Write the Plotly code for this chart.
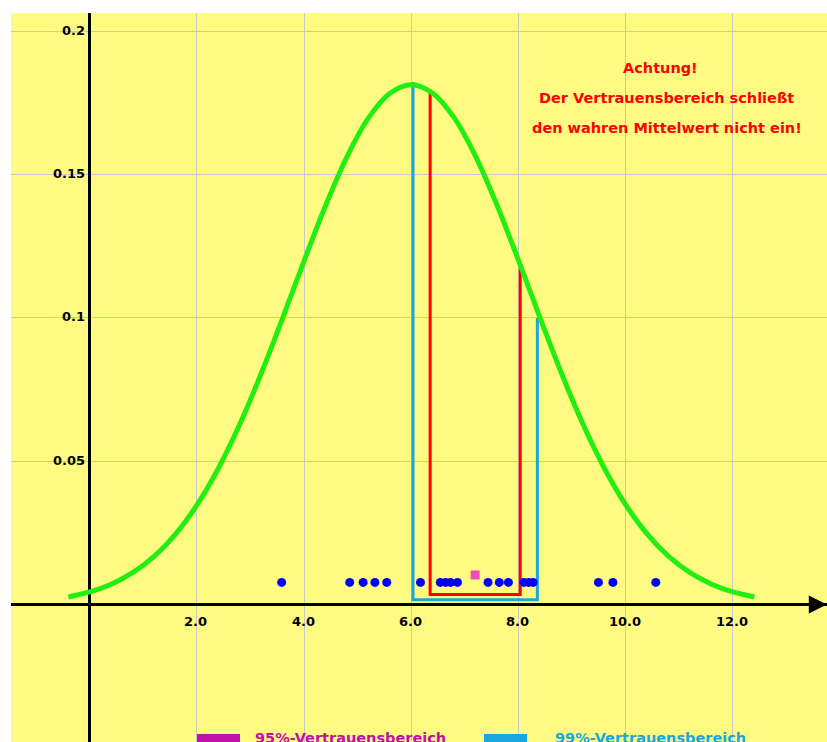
import plotly.graph_objects as go

# ---- data ----
curve_x = [-0.4, 0.0, 0.4, 0.8, 1.2, 1.6, 2.0, 2.4, 2.8, 3.2, 3.6, 4.0, 4.4, 4.8, 5.2, 5.6, 6.0,
           6.4, 6.8, 7.2, 7.6, 8.0, 8.4, 8.8, 9.2, 9.6, 10.0, 10.4, 10.8, 11.2, 11.6, 12.0, 12.4]
curve_y = [0.00263, 0.00440, 0.00710, 0.01110, 0.01678, 0.02454, 0.03472, 0.04753, 0.06295,
           0.08066, 0.10000, 0.11994, 0.13917, 0.15624, 0.16970, 0.17833, 0.18130,
           0.17833, 0.16970, 0.15624, 0.13917, 0.11994, 0.10000, 0.08066, 0.06295, 0.04753,
           0.03472, 0.02454, 0.01678, 0.01110, 0.00710, 0.00440, 0.00263]

sample_x = [3.58, 4.85, 5.10, 5.32, 5.54, 6.17, 6.54, 6.64, 6.73, 6.86,
            7.43, 7.64, 7.81, 8.10, 8.19, 8.27, 9.49, 9.76, 10.56]
sample_level = 0.0077

sample_mean = [7.19]
sample_mean_level = [0.0103]

ci95_x = [6.35, 8.03]
ci95_top = [0.1787, 0.1174]
ci95_base = 0.0035

ci99_x = [6.03, 8.35]
ci99_top = [0.1822, 0.0999]
ci99_base = 0.0017

x_ticks = [2, 4, 6, 8, 10, 12]
x_tick_labels = ["2.0", "4.0", "6.0", "8.0", "10.0", "12.0"]
y_ticks = [0.05, 0.1, 0.15, 0.2]
y_tick_labels = ["0.05", "0.1", "0.15", "0.2"]

warning_lines = ["Achtung!", "Der Vertrauensbereich schließt", "den wahren Mittelwert nicht ein!"]
legend_labels = ["95%-Vertrauensbereich", "99%-Vertrauensbereich"]

# ---- styles ----
BG = "#FFFB82"
GREEN = "#22EE11"
RED = "#FF0000"
CYAN = "#18A8DC"
MAGENTA = "#C010A8"
BLUE = "#0000FF"
PINK = "#F04CB4"
FONT = "DejaVu Sans, Liberation Sans, Arial, sans-serif"

fig = go.Figure()

# 99% interval (cyan)
fig.add_trace(go.Scatter(
    x=[ci99_x[0], ci99_x[0], ci99_x[1], ci99_x[1]],
    y=[ci99_top[0], ci99_base, ci99_base, ci99_top[1]],
    mode="lines", line=dict(color=CYAN, width=3), hoverinfo="skip"))
# 95% interval (red)
fig.add_trace(go.Scatter(
    x=[ci95_x[0], ci95_x[0], ci95_x[1], ci95_x[1]],
    y=[ci95_top[0], ci95_base, ci95_base, ci95_top[1]],
    mode="lines", line=dict(color=RED, width=3), hoverinfo="skip"))
# density curve
fig.add_trace(go.Scatter(
    x=curve_x, y=curve_y, mode="lines",
    line=dict(color=GREEN, width=5, shape="spline")))
# sample points
fig.add_trace(go.Scatter(
    x=sample_x, y=[sample_level] * len(sample_x), mode="markers",
    marker=dict(color=BLUE, size=9, symbol="circle")))
# sample mean
fig.add_trace(go.Scatter(
    x=sample_mean, y=sample_mean_level, mode="markers",
    marker=dict(color=PINK, size=9, symbol="square")))

annotations = []
for v, t in zip(x_ticks, x_tick_labels):
    annotations.append(dict(x=v, y=0, xref="x", yref="y", text="<b>%s</b>" % t,
                            showarrow=False, yshift=-17, xshift=-1, xanchor="center",
                            font=dict(family=FONT, size=13, color="black")))
for v, t in zip(y_ticks, y_tick_labels):
    annotations.append(dict(x=0, y=v, xref="x", yref="y", text="<b>%s</b>" % t,
                            showarrow=False, xanchor="right", xshift=-3, yshift=1,
                            font=dict(family=FONT, size=13, color="black")))
# warning text
warning_centers = [660, 666, 667]
for i, t in enumerate(warning_lines):
    annotations.append(dict(x=(warning_centers[i] - 11) / 816, y=(742 - (68 + 30 * i)) / 729,
                            xref="paper", yref="paper", text="<b>%s</b>" % t,
                            showarrow=False, xanchor="center", yanchor="middle",
                            font=dict(family=FONT, size=14.5, color=RED)))
# x-axis arrow head
annotations.append(dict(x=13.75, y=0, xref="x", yref="y", text="", showarrow=True,
                        ax=-14, ay=0, arrowhead=2, arrowsize=1.2, arrowwidth=3,
                        arrowcolor="black"))
# legend texts
annotations.append(dict(x=(253 - 11) / 816, y=(742 - 738) / 729, xref="paper", yref="paper",
                        text="<b>%s</b>" % legend_labels[0], showarrow=False,
                        xanchor="left", yanchor="middle",
                        font=dict(family=FONT, size=14.5, color=MAGENTA)))
annotations.append(dict(x=(553 - 11) / 816, y=(742 - 738) / 729, xref="paper", yref="paper",
                        text="<b>%s</b>" % legend_labels[1], showarrow=False,
                        xanchor="left", yanchor="middle",
                        font=dict(family=FONT, size=14.5, color=CYAN)))

shapes = [
    dict(type="rect", xref="paper", yref="paper",
         x0=(197 - 11) / 816, x1=(240 - 11) / 816, y0=0, y1=(742 - 734) / 729,
         fillcolor=MAGENTA, line=dict(width=0)),
    dict(type="rect", xref="paper", yref="paper",
         x0=(484 - 11) / 816, x1=(527 - 11) / 816, y0=0, y1=(742 - 734) / 729,
         fillcolor=CYAN, line=dict(width=0)),
]

fig.update_layout(
    width=827, height=742,
    margin=dict(l=11, r=0, t=13, b=0),
    paper_bgcolor="white", plot_bgcolor=BG,
    showlegend=False,
    annotations=annotations, shapes=shapes,
    xaxis=dict(range=[-1.47, 13.754], tickvals=[0] + x_ticks, showticklabels=False,
               showgrid=True, gridcolor="#C8C8C8", gridwidth=1,
               zeroline=True, zerolinecolor="black", zerolinewidth=3, fixedrange=True),
    yaxis=dict(range=[-0.04795, 0.2063], tickvals=y_ticks, showticklabels=False,
               showgrid=True, gridcolor="#C8C8C8", gridwidth=1,
               zeroline=True, zerolinecolor="black", zerolinewidth=3, fixedrange=True),
)

fig.write_html("out.html",
               config={"displayModeBar": False, "staticPlot": False},
               post_script="document.body.style.margin='0';"
                           "document.body.style.overflow='hidden';")
